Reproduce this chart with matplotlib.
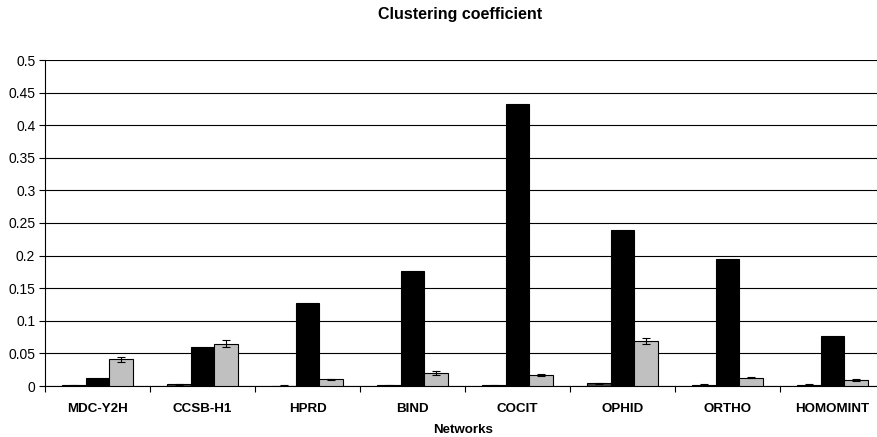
import numpy as np
import matplotlib.pyplot as plt
from matplotlib.ticker import FixedLocator, NullFormatter

plt.rcParams["font.family"] = ["Liberation Sans", "DejaVu Sans"]

# ── Data ──────────────────────────────────────────────────────────────────────
networks = ["MDC-Y2H", "CCSB-H1", "HPRD", "BIND", "COCIT", "OPHID", "ORTHO", "HOMOMINT"]
random_vals = [0.001, 0.003, 0.0005, 0.001, 0.001, 0.004, 0.002, 0.002]
random_err = [0.0005, 0.0008, 0.0003, 0.0005, 0.0003, 0.0008, 0.0005, 0.0005]
real_vals = [0.012, 0.060, 0.128, 0.177, 0.432, 0.239, 0.195, 0.076]
model_vals = [0.041, 0.065, 0.010, 0.020, 0.017, 0.069, 0.013, 0.009]
model_err = [0.004, 0.005, 0.001, 0.003, 0.002, 0.004, 0.001, 0.002]
yticks = [0, 0.05, 0.1, 0.15, 0.2, 0.25, 0.3, 0.35, 0.4, 0.45, 0.5]
ylabels = ["0", "0.05", "0.1", "0.15", "0.2", "0.25", "0.3", "0.35", "0.4", "0.45", "0.5"]

# ── Plot ──────────────────────────────────────────────────────────────────────
W, H = 877, 437
fig = plt.figure(figsize=(W / 100, H / 100), dpi=100)
ax = fig.add_axes([45 / W, (H - 386) / H, 840 / W, 326 / H])

x = np.arange(len(networks))
bw = 0.224
err_kw = dict(ecolor="black", capsize=3, elinewidth=0.8, capthick=0.8)

ax.bar(x - bw, random_vals, bw, yerr=random_err, color="#404040",
       edgecolor="black", linewidth=0.8, error_kw=err_kw, zorder=3)
ax.bar(x, real_vals, bw, color="black", edgecolor="black", linewidth=0.8, zorder=3)
ax.bar(x + bw, model_vals, bw, yerr=model_err, color="#c0c0c0",
       edgecolor="black", linewidth=0.8, error_kw=err_kw, zorder=3)

ax.set_xlim(-0.5, len(networks) - 0.5)
ax.set_ylim(0, 0.5)
ax.set_yticks(yticks)
ax.set_yticklabels(ylabels, fontsize=10)
ax.yaxis.grid(True, color="black", linewidth=0.8)
ax.set_axisbelow(True)

ax.set_xticks(x)
ax.set_xticklabels(networks, fontsize=9.6, fontweight="bold")
ax.tick_params(axis="x", length=0, pad=12)
ax.xaxis.set_minor_locator(FixedLocator(np.arange(-0.5, len(networks), 1.0)))
ax.xaxis.set_minor_formatter(NullFormatter())
ax.tick_params(axis="x", which="minor", length=4, width=0.8, direction="out")
ax.tick_params(axis="y", length=4, width=0.8, direction="out", pad=3)

for side in ["top", "right"]:
    ax.spines[side].set_visible(False)
ax.spines["left"].set_linewidth(0.8)
ax.spines["bottom"].set_linewidth(0.8)

fig.text(460 / W, 1 - 14 / H, "Clustering coefficient", ha="center", va="center",
         fontsize=11.5, fontweight="bold")
fig.text(463 / W, 1 - 430 / H, "Networks", ha="center", va="center",
         fontsize=9.6, fontweight="bold")

fig.savefig("out.png", dpi=100)
